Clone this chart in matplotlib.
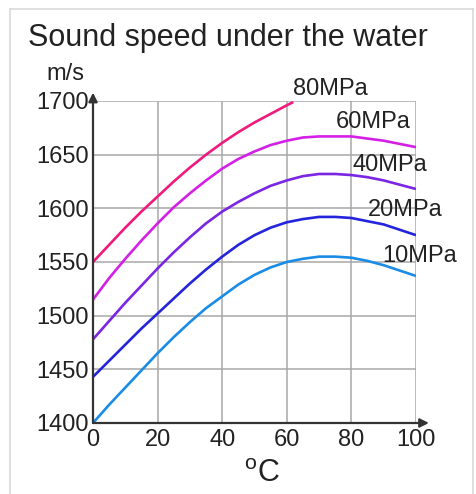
import matplotlib
matplotlib.use('Agg')
import matplotlib.pyplot as plt
from matplotlib.lines import Line2D

plt.rcParams['font.family'] = ['Liberation Sans', 'DejaVu Sans']

# temperature (deg C) and sound speed (m/s)
temps = list(range(0, 101, 5))
v_10 = [1400, 1417, 1433, 1449, 1465, 1480, 1494, 1507, 1518, 1529, 1538,
        1545, 1550, 1553, 1555, 1555, 1554, 1551, 1547, 1542, 1537]
v_20 = [1443, 1458, 1473, 1488, 1502, 1516, 1530, 1543, 1555, 1566, 1575,
        1582, 1587, 1590, 1592, 1592, 1591, 1588, 1585, 1580, 1575]
v_40 = [1478, 1495, 1512, 1528, 1544, 1559, 1573, 1586, 1597, 1606, 1614,
        1621, 1626, 1630, 1632, 1632, 1631, 1629, 1626, 1622, 1618]
v_60 = [1515, 1535, 1553, 1570, 1586, 1601, 1614, 1626, 1637, 1646, 1653,
        1659, 1663, 1666, 1667, 1667, 1667, 1665, 1663, 1660, 1657]
temps_80 = [0, 5, 10, 15, 20, 25, 30, 35, 40, 45, 50, 55, 60, 62]
v_80 = [1550, 1566, 1582, 1597, 1611, 1625, 1638, 1650, 1661, 1671, 1680,
        1688, 1696, 1699]

labels = ['10MPa', '20MPa', '40MPa', '60MPa', '80MPa']
colors = ['#1a8ce6', '#2424dd', '#7a26e2', '#d420e6', '#ee1a7c']
label_pos = [(89.4, 1556), (85.1, 1598), (80.4, 1640), (75.2, 1680), (62, 1711)]

fig = plt.figure(figsize=(4.76, 4.94), dpi=100)
ax = fig.add_axes([93/476, 71/494, 323/476, 322/494])

series = [(temps, v_10), (temps, v_20), (temps, v_40), (temps, v_60), (temps_80, v_80)]
for (x, y), c in zip(series, colors):
    ax.plot(x, y, color=c, lw=1.9, solid_capstyle='butt', solid_joinstyle='round')

for name, (tx, ty) in zip(labels, label_pos):
    ax.text(tx, ty, name, fontsize=17, ha='left', va='center', color='#222222', clip_on=False)

ax.set_xlim(0, 100)
ax.set_ylim(1400, 1700)
ax.set_xticks([0, 20, 40, 60, 80, 100])
ax.set_yticks([1400, 1450, 1500, 1550, 1600, 1650, 1700])
ax.grid(True, color='#a8a8a8', lw=1.1)
ax.set_axisbelow(True)
for s in ['top', 'right', 'left', 'bottom']:
    ax.spines[s].set_visible(False)
ax.tick_params(length=0, labelsize=17, colors='#222222')
ax.tick_params(axis='x', pad=4)
ax.tick_params(axis='y', pad=3)

# axis arrows
ax.annotate('', xy=(0, 1.026), xytext=(0, 0), xycoords='axes fraction',
            arrowprops=dict(arrowstyle='-|>', color='#333333', lw=1.6, mutation_scale=13, shrinkA=0, shrinkB=0))
ax.annotate('', xy=(1.04, 0), xytext=(0, 0), xycoords='axes fraction',
            arrowprops=dict(arrowstyle='-|>', color='#333333', lw=1.6, mutation_scale=13, shrinkA=0, shrinkB=0))

fig.text(228/476, 1 - 38/494, 'Sound speed under the water', fontsize=22, ha='center', va='center', color='#222222')
fig.text(65/476, 1 - 74/494, 'm/s', fontsize=17, ha='center', va='center', color='#222222')
fig.text(262/476, 1 - 474/494, r'$^\mathregular{o}$C', fontsize=22, ha='center', va='center', color='#222222')

# light frame around the picture
fc = '#d9d9d9'
fig.add_artist(Line2D([10/476, 10/476], [0, 1 - 9/494], transform=fig.transFigure, color=fc, lw=1.2))
fig.add_artist(Line2D([473/476, 473/476], [0, 1 - 9/494], transform=fig.transFigure, color=fc, lw=1.2))
fig.add_artist(Line2D([10/476, 473/476], [1 - 9/494, 1 - 9/494], transform=fig.transFigure, color=fc, lw=1.2))

fig.savefig('out.png', dpi=100)
